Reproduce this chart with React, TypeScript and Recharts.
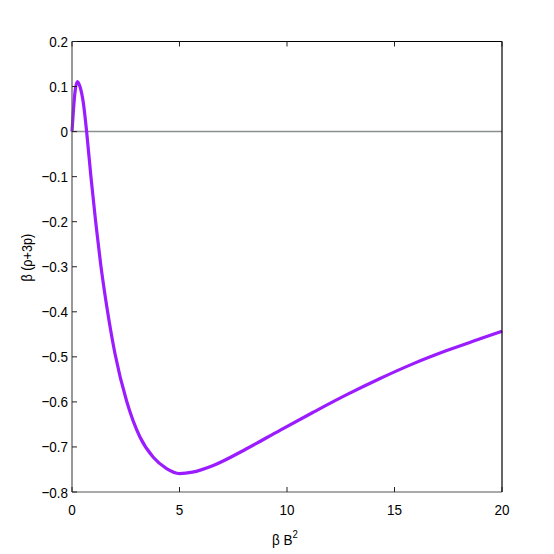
import React from 'react';
import { LineChart, Line, XAxis, YAxis, ReferenceLine } from 'recharts';

const xValues = [0, 0.07, 0.14, 0.25, 0.37, 0.53, 0.68, 0.88, 1.1, 1.33, 1.61, 2.0, 2.54, 3.16, 3.78, 4.4, 5.0, 5.6, 6.57, 8.12, 9.67, 11.22, 12.78, 14.33, 15.88, 17.43, 18.98, 20];
const yValues = [0, 0.05, 0.088, 0.111, 0.1, 0.063, 0, -0.1, -0.2, -0.293, -0.386, -0.493, -0.598, -0.678, -0.723, -0.748, -0.759, -0.756, -0.741, -0.704, -0.663, -0.623, -0.584, -0.548, -0.515, -0.486, -0.46, -0.443];
const xTicks = [0, 5, 10, 15, 20];
const yTicks = [-0.8, -0.7, -0.6, -0.5, -0.4, -0.3, -0.2, -0.1, 0, 0.1, 0.2];

const data = xValues.map((x, i) => ({ x, y: yValues[i] }));

const FONT = '"Liberation Sans", Arial, Helvetica, sans-serif';
const SX = 0.87;
const TS = 1; // tick size passed to recharts
const TM = 4; // tick margin passed to recharts
const OFF = TS + TM;
const TICK_FS = 15.5;

const fmtY = (v: number) => {
  const r = Math.round(v * 10) / 10;
  if (r === 0) return '0';
  return r < 0 ? '\u2212' + Math.abs(r).toString() : r.toString();
};

const NText = ({ x, y, anchor, size, children }: any) => (
  <text
    transform={`translate(${x} ${y}) scale(${SX} 1)`}
    x={0}
    y={0}
    textAnchor={anchor}
    fontFamily={FONT}
    fontSize={size}
    fill="#000"
  >
    {children}
  </text>
);

const LeftTick = (props: any) => {
  const { x, y, payload } = props;
  const ax = x + OFF;
  return (
    <g>
      <line x1={ax} x2={ax + 5} y1={y} y2={y} stroke="#222" strokeWidth={1} />
      <NText x={ax - 4} y={y + 5.5} anchor="end" size={TICK_FS}>
        {fmtY(payload.value)}
      </NText>
    </g>
  );
};

const RightTick = (props: any) => {
  const { x, y } = props;
  const ax = x - OFF;
  return <line x1={ax} x2={ax - 5} y1={y} y2={y} stroke="#222" strokeWidth={1} />;
};

const BottomTick = (props: any) => {
  const { x, y, payload } = props;
  const ay = y - OFF;
  return (
    <g>
      <line x1={x} x2={x} y1={ay} y2={ay - 5} stroke="#222" strokeWidth={1} />
      <NText x={x} y={ay + 23} anchor="middle" size={TICK_FS}>
        {payload.value}
      </NText>
    </g>
  );
};

const TopTick = (props: any) => {
  const { x, y } = props;
  const ay = y + OFF;
  return <line x1={x} x2={x} y1={ay} y2={ay + 5} stroke="#222" strokeWidth={1} />;
};

const YLabel = (props: any) => {
  const vb = props.viewBox || {};
  const cx = (vb.x || 0) + 32;
  const cy = (vb.y || 0) + (vb.height || 0) / 2 - 9;
  return (
    <text
      transform={`translate(${cx} ${cy}) rotate(-90) scale(${SX} 1)`}
      x={0}
      y={0}
      textAnchor="middle"
      fontFamily={FONT}
      fontSize={14.5}
      fill="#000"
    >
      β (ρ+3p)
    </text>
  );
};

const XLabel = (props: any) => {
  const vb = props.viewBox || {};
  const cx = (vb.x || 0) + (vb.width || 0) / 2 - 2;
  const cy = (vb.y || 0) + 53;
  return (
    <text
      transform={`translate(${cx} ${cy}) scale(${SX} 1)`}
      x={0}
      y={0}
      textAnchor="middle"
      fontFamily={FONT}
      fontSize={15.5}
      fill="#000"
    >
      β B
      <tspan dy={-7} fontSize={11}>2</tspan>
    </text>
  );
};

export default function App() {
  return (
    <div style={{ position: 'absolute', left: 0, top: 0, width: 554, height: 554, background: '#fff' }}>
      <LineChart width={554} height={554} data={data} margin={{ top: 40.5, right: 51, bottom: 0, left: 0 }}>
        <XAxis
          xAxisId="b"
          dataKey="x"
          type="number"
          domain={[0, 20]}
          ticks={xTicks}
          orientation="bottom"
          height={62}
          tickSize={TS}
          tickMargin={TM}
          tickLine={false}
          axisLine={{ stroke: '#555', strokeWidth: 1.2 }}
          tick={<BottomTick />}
          label={<XLabel />}
          interval={0}
        />
        <XAxis
          xAxisId="t"
          dataKey="x"
          type="number"
          domain={[0, 20]}
          ticks={xTicks}
          orientation="top"
          height={1}
          tickSize={TS}
          tickMargin={TM}
          tickLine={false}
          axisLine={{ stroke: '#000', strokeWidth: 1.2 }}
          tick={<TopTick />}
          interval={0}
        />
        <YAxis
          yAxisId="l"
          type="number"
          domain={[-0.8, 0.2]}
          ticks={yTicks}
          orientation="left"
          width={72}
          tickSize={TS}
          tickMargin={TM}
          tickLine={false}
          axisLine={{ stroke: '#555', strokeWidth: 1.2 }}
          tick={<LeftTick />}
          label={<YLabel />}
          interval={0}
        />
        <YAxis
          yAxisId="r"
          type="number"
          domain={[-0.8, 0.2]}
          ticks={yTicks}
          orientation="right"
          width={1}
          tickSize={TS}
          tickMargin={TM}
          tickLine={false}
          axisLine={{ stroke: '#000', strokeWidth: 1.2 }}
          tick={<RightTick />}
          interval={0}
        />
        <ReferenceLine xAxisId="b" yAxisId="l" y={0} stroke="#8a908a" strokeWidth={1.5} />
        <Line
          xAxisId="b"
          yAxisId="l"
          dataKey="y"
          type="monotone"
          stroke="#9b1cff"
          strokeWidth={3.2}
          dot={false}
          isAnimationActive={false}
        />
      </LineChart>
    </div>
  );
}
